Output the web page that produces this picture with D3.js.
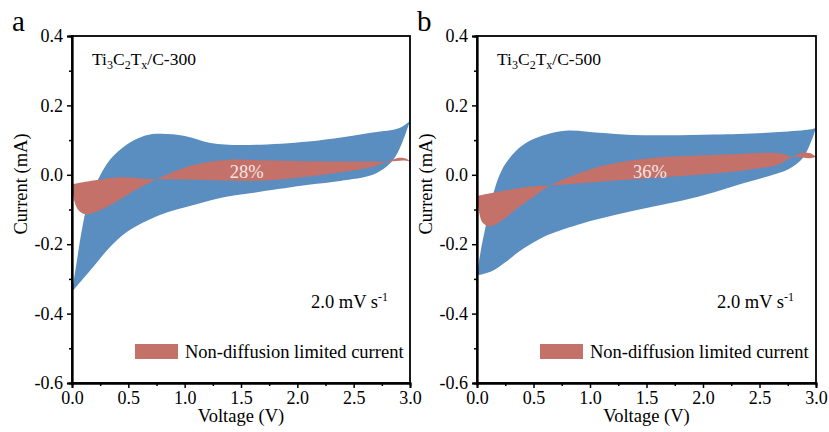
<!DOCTYPE html>
<html>
<head>
<meta charset="utf-8">
<script src="https://cdn.jsdelivr.net/npm/d3@7"></script>
<style>
  body { margin: 0; background: #fff; }
  text { font-family: "Liberation Serif", "Times New Roman", serif; }
</style>
</head>
<body>
<svg id="chart" width="829" height="432"></svg>
<script>
// axis ticks
var voltTicks = [0, 0.5, 1, 1.5, 2, 2.5, 3];
var voltMinor = [0.25, 0.75, 1.25, 1.75, 2.25, 2.75];
var currTicks = [0.4, 0.2, 0, -0.2, -0.4, -0.6];
var currMinor = [0.3, 0.1, -0.1, -0.3, -0.5];

// panel a  (Ti3C2Tx/C-300) : total CV loop and non-diffusion part, [V, mA]
var blueUpA = [[0,-0.337],[0.05,-0.234],[0.09,-0.155],[0.15,-0.07],[0.22,-0.02],[0.34,0.045],[0.49,0.088],[0.62,0.11],[0.75,0.118],[1.0,0.112],[1.23,0.092],[1.5,0.086],[2.1,0.096],[2.67,0.122],[2.9,0.134],[3.0,0.155]];
var blueDownA = [[3.0,0.155],[2.94,0.1],[2.87,0.052],[2.79,0.023],[2.67,0.0],[2.38,-0.018],[2.1,-0.029],[1.67,-0.049],[1.37,-0.063],[1.08,-0.087],[0.78,-0.116],[0.49,-0.164],[0.34,-0.207],[0.19,-0.265],[0,-0.337]];
var redUpA = [[0,-0.027],[0.02,-0.075],[0.06,-0.103],[0.13,-0.114],[0.34,-0.087],[0.49,-0.058],[0.75,-0.013],[1.08,0.028],[1.37,0.043],[1.7,0.042],[2.1,0.039],[2.67,0.038],[2.79,0.038],[2.9,0.049],[2.97,0.046],[3.0,0.038]];
var redDownA = [[3.0,0.038],[2.95,0.041],[2.88,0.04],[2.79,0.037],[2.67,0.023],[2.38,0.007],[2.1,-0.005],[1.67,-0.017],[1.1,-0.014],[0.75,-0.013],[0.43,-0.007],[0.22,-0.015],[0,-0.027]];

// panel b  (Ti3C2Tx/C-500)
var blueUpB = [[0,-0.29],[0.03,-0.225],[0.07,-0.159],[0.145,-0.053],[0.22,0.014],[0.34,0.067],[0.48,0.1],[0.78,0.127],[1.08,0.121],[1.37,0.115],[1.7,0.114],[2.1,0.116],[2.67,0.123],[2.95,0.131],[3.0,0.135]];
var blueDownB = [[3.0,0.135],[2.95,0.09],[2.88,0.047],[2.76,0.017],[2.6,-0.002],[2.38,-0.022],[2.1,-0.05],[1.81,-0.075],[1.51,-0.095],[1.22,-0.116],[0.93,-0.14],[0.63,-0.173],[0.48,-0.199],[0.36,-0.224],[0.26,-0.25],[0.13,-0.278],[0,-0.29]];
var redUpB = [[0,-0.06],[0.02,-0.11],[0.05,-0.138],[0.115,-0.148],[0.26,-0.122],[0.34,-0.1],[0.48,-0.068],[0.65,-0.031],[1.08,0.023],[1.51,0.047],[2.1,0.057],[2.67,0.062],[2.79,0.053],[2.88,0.064],[2.95,0.062],[3.0,0.052]];
var redDownB = [[3.0,0.052],[2.95,0.048],[2.88,0.05],[2.79,0.051],[2.67,0.03],[2.38,0.014],[2.1,0.004],[1.51,-0.01],[1.08,-0.02],[0.65,-0.031],[0.48,-0.034],[0.19,-0.049],[0,-0.061]];

var letters = ["a", "b"];
var samples = ["300", "500"];
var shares = ["28%", "36%"];
var legendLabel = "Non-diffusion limited current";

var blue = "#5b8ec0", red = "#c4716a";

var svg = d3.select("#chart");

var panels = [
  { left: 72, right: 410, up: blueUpA, down: blueDownA, rUp: redUpA, rDown: redDownA, share: [1.55, 0.0] },
  { left: 477, right: 816, up: blueUpB, down: blueDownB, rUp: redUpB, rDown: redDownB, share: [1.53, 0.0] }
];
var plotTop = 36, plotBottom = 383;

panels.forEach(function(p, i) {
  var x = d3.scaleLinear().domain([0, 3]).range([p.left, p.right]);
  var y = d3.scaleLinear().domain([-0.6, 0.4]).range([plotBottom, plotTop]);
  var g = svg.append("g");

  var line = d3.line()
    .x(function(d) { return x(d[0]); })
    .y(function(d) { return y(d[1]); })
    .curve(d3.curveCatmullRom.alpha(0.5));
  var loop = function(a, b) { return line(a) + line(b).replace(/^M/, "L") + "Z"; };

  g.append("path").attr("d", loop(p.up, p.down)).attr("fill", blue);
  g.append("path").attr("d", loop(p.rUp, p.rDown)).attr("fill", red);

  g.append("text")
    .attr("x", x(p.share[0])).attr("y", y(p.share[1]) + 3)
    .attr("text-anchor", "middle").attr("font-size", 18.5)
    .attr("fill", "#f4e6e3").text(shares[i]);

  // frame
  g.append("rect")
    .attr("x", p.left).attr("y", plotTop)
    .attr("width", p.right - p.left).attr("height", plotBottom - plotTop)
    .attr("fill", "none").attr("stroke", "#000").attr("stroke-width", 1.8);

  var fmt = function(d) { return d.toFixed(1); };
  var ax = g.append("g").attr("transform", "translate(0," + plotBottom + ")")
    .call(d3.axisBottom(x).tickValues(voltTicks).tickSize(5).tickPadding(3).tickFormat(fmt));
  var axm = g.append("g").attr("transform", "translate(0," + plotBottom + ")")
    .call(d3.axisBottom(x).tickValues(voltMinor).tickSize(3).tickFormat(""));
  var ay = g.append("g").attr("transform", "translate(" + p.left + ",0)")
    .call(d3.axisLeft(y).tickValues(currTicks).tickSize(5).tickPadding(4).tickFormat(fmt));
  var aym = g.append("g").attr("transform", "translate(" + p.left + ",0)")
    .call(d3.axisLeft(y).tickValues(currMinor).tickSize(3).tickFormat(""));
  [ax, axm, ay, aym].forEach(function(a) {
    a.attr("font-family", null);
    a.select(".domain").attr("stroke-width", 1.8);
    a.selectAll(".tick line").attr("stroke-width", 1.5);
    a.selectAll("text").attr("font-size", 18).attr("fill", "#000");
  });
  ax.selectAll(".tick text").attr("dy", "0.7em");

  // axis titles
  g.append("text")
    .attr("x", (p.left + p.right) / 2).attr("y", 422)
    .attr("text-anchor", "middle").attr("font-size", 18.5).text("Voltage (V)");
  g.append("text")
    .attr("transform", "translate(" + (p.left - 45) + ",184) rotate(-90)")
    .attr("text-anchor", "middle").attr("font-size", 18.5).text("Current (mA)");

  // panel letter
  g.append("text")
    .attr("x", p.left - 60).attr("y", 31)
    .attr("font-size", 29).text(letters[i]);

  // sample name with subscripts
  var t = g.append("text").attr("x", p.left + 20).attr("y", 65).attr("font-size", 17.5);
  t.append("tspan").text("Ti");
  t.append("tspan").attr("font-size", 12).attr("dy", 4).text("3");
  t.append("tspan").attr("dy", -4).text("C");
  t.append("tspan").attr("font-size", 12).attr("dy", 4).text("2");
  t.append("tspan").attr("dy", -4).text("T");
  t.append("tspan").attr("font-size", 12).attr("dy", 4).text("x");
  t.append("tspan").attr("dy", -4).text("/C-" + samples[i]);

  // scan rate
  var s = g.append("text").attr("x", p.right - 22).attr("y", 308)
    .attr("text-anchor", "end").attr("font-size", 18.5);
  s.append("tspan").text("2.0 mV s");
  s.append("tspan").attr("font-size", 12).attr("dy", -7).text("-1");

  // legend
  g.append("rect")
    .attr("x", p.left + 63).attr("y", 344).attr("width", 43).attr("height", 15)
    .attr("fill", red);
  g.append("text")
    .attr("x", p.left + 113).attr("y", 358)
    .attr("font-size", 18.5).text(legendLabel);
});
</script>
</body>
</html>
